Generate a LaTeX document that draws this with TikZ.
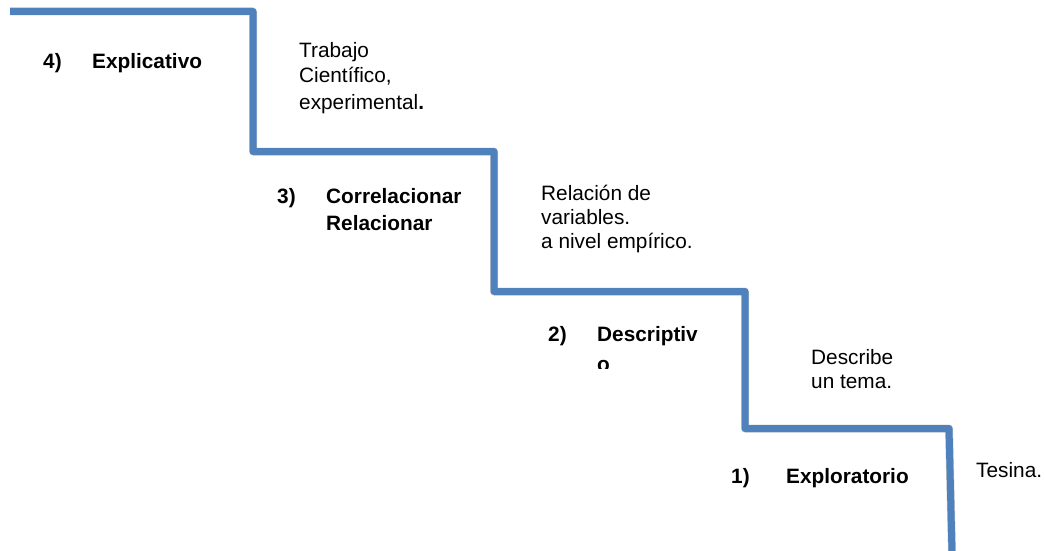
\documentclass[tikz,border=0pt]{standalone}
\usepackage{fontspec}
\setmainfont{Liberation Sans}
\definecolor{stairblue}{RGB}{79,129,189}
\tikzset{
  stair/.style={draw=stairblue, line width=7pt, line join=round, line cap=butt},
  stairshadow/.style={draw=black, opacity=0.18, line width=8pt, line join=round},
  lbl/.style={anchor=base west, inner sep=0pt, font=\fontsize{20.8}{24}\selectfont},
  blbl/.style={lbl, font=\fontsize{20.8}{24}\selectfont\bfseries},
}
\begin{document}
\begin{tikzpicture}[x=1pt,y=-1pt]
\useasboundingbox (0,0) rectangle (1046,551);
\fill[white] (0,0) rectangle (1046,551);
% stair corners
\coordinate (s0) at (10,11.5);
\coordinate (s1) at (253,11.5);
\coordinate (s2) at (253,151.5);
\coordinate (s3) at (494,151.5);
\coordinate (s4) at (494,291.5);
\coordinate (s5) at (745,291.5);
\coordinate (s6) at (745,428.5);
\coordinate (s7) at (949,428.5);
\coordinate (s8) at (952,553);
% shadow
\begin{scope}[shift={(2,3)}]
\draw[stairshadow] (s0) -- (s1) -- (s2) -- (s3) -- (s4) -- (s5) -- (s6) -- (s7) -- (s8);
\end{scope}
% staircase
\draw[stair] (s0) -- (s1) -- (s2) -- (s3) -- (s4) -- (s5) -- (s6) -- (s7) -- (s8);
% level 4
\node[blbl] (n4) at (43,68) {4)};
\node[blbl] (t4) at (92,68) {Explicativo};
\node[lbl] (d4a) at (299,57) {Trabajo};
\node[lbl] (d4b) at (299,82) {Científico,};
\node[lbl] (d4c) at (299,109) {experimental\textbf{.}};
% level 3
\node[blbl] (n3) at (277,203) {3)};
\node[blbl] (t3a) at (326,203) {Correlacionar};
\node[blbl] (t3b) at (326,230) {Relacionar};
\node[lbl] (d3a) at (541,200) {Relación de};
\node[lbl] (d3b) at (541,224) {variables.};
\node[lbl] (d3c) at (541,248) {a nivel empírico.};
% level 2
\node[blbl] (n2) at (548,341) {2)};
\node[blbl] (t2a) at (597,341) {Descriptiv};
\begin{scope}
\clip (590,350) rectangle (700,368);
\node[blbl] (t2b) at (597,371) {o};
\end{scope}
\node[lbl] (d2a) at (811,364) {Describe};
\node[lbl] (d2b) at (811,388) {un tema.};
% level 1
\node[blbl] (n1) at (731,483) {1)};
\node[blbl] (t1) at (786,483) {Exploratorio};
\node[lbl] (d1) at (976,477) {Tesina.};
\end{tikzpicture}
\end{document}
